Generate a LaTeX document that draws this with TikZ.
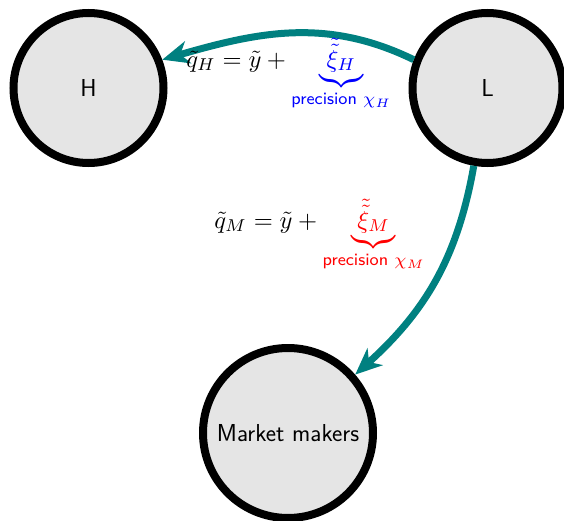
\documentclass[tikz,border=0pt]{standalone}
\usepackage{graphicx}
\usepackage{amsmath}
\usetikzlibrary{arrows.meta}
\begin{document}
\begin{tikzpicture}[x=0.75pt,y=-0.75pt,
  agent/.style={circle, draw=black, line width=6pt, fill=gray!20, minimum size=112.5pt,
    inner sep=0pt, font=\fontsize{18.4}{22}\sffamily\selectfont},
  flow/.style={draw=teal, line width=5.25pt, -{Stealth[length=20pt,width=17pt,inset=6pt]}},
  eqlabel/.style={anchor=base west, inner sep=0pt}]
\useasboundingbox (0,0) rectangle (564,521);
\node[agent] (H) at (88.5,88) {H};
\node[agent] (L) at (487.5,88) {L};
\node[agent, minimum size=127.5pt] (MM) at (288,433) {Market makers};
\draw[flow] (L.159) to[out=154, in=16] (H.21);
\draw[flow] (L.-100) to[out=-100, in=42] (MM.41);
\node[eqlabel] (qH) at (186,67) {\scalebox{1.84}{$\tilde q_H = \tilde y + {\color{blue}\underbrace{\tilde{\tilde\xi}_H}_{\text{\sffamily precision }\chi_H}}$}};
\node[eqlabel] (qM) at (214,228) {\scalebox{1.84}{$\tilde q_M = \tilde y + {\color{red}\underbrace{\tilde{\tilde\xi}_M}_{\text{\sffamily precision }\chi_M}}$}};
\end{tikzpicture}
\end{document}
